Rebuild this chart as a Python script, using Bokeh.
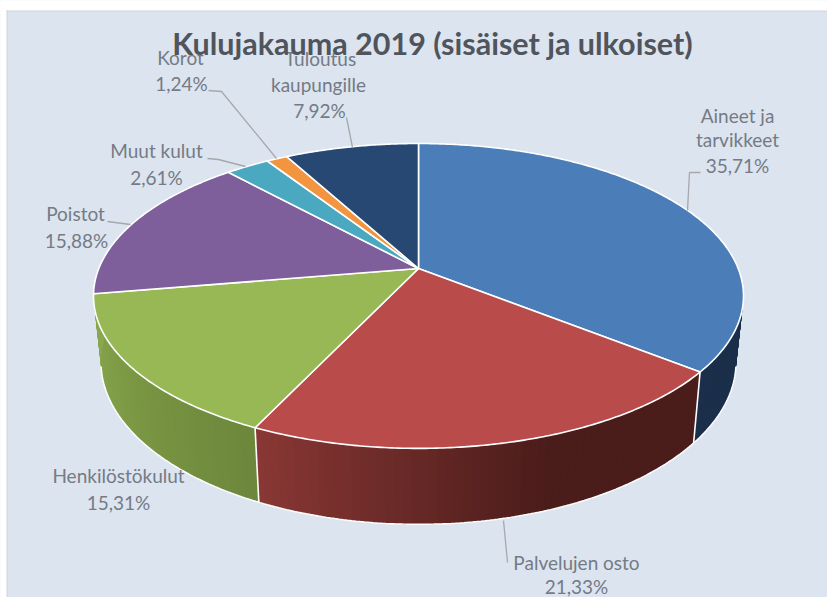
import numpy as np
from bokeh.plotting import figure
from bokeh.models import Range1d
from bokeh.embed import file_html
from bokeh.resources import INLINE
from bokeh.core.properties import value

# ---- data ----
categories = ["Aineet ja tarvikkeet", "Palvelujen osto", "Henkilöstökulut", "Poistot",
              "Muut kulut", "Korot", "Tuloutus kaupungille"]
shares = [35.71, 21.33, 15.31, 15.88, 2.61, 1.24, 7.92]
title_text = "Kulujakauma 2019 (sisäiset ja ulkoiset)"

# ---- style ----
top_colors = ["#4b7eb9", "#b94c4a", "#98b856", "#7e5f9b", "#4aa8c0", "#f29440", "#264872"]
panel = "#dce4ef"
label_color = "#747b85"
title_color = "#50545c"
FONT = "Lato"

# ---- perspective of the disc (picture pixels) ----
X0, Y0 = 418.0, 268.0
K = 0.18
A = 325 * np.sqrt(1 - K ** 2)
B = 147.5
SX, Y_REF_TOP, Y_REF_LOW, SY = 0.977, 372.0, 443.0, 1.065


def rim(t_deg):
    t = np.radians(t_deg)
    d = 1 + K * np.cos(t)
    return X0 + A * np.sin(t) / d, Y0 - B * np.cos(t) / d


def low(t_deg):
    x, y = rim(t_deg)
    return X0 + SX * (x - X0), Y_REF_LOW + SY * (y - Y_REF_TOP)


def mix(stops, t):
    ts = [s[0] for s in stops]
    rgb = [[int(s[1][i:i + 2], 16) for i in (1, 3, 5)] for s in stops]
    c = [int(round(np.interp(t, ts, [r[j] for r in rgb]))) for j in range(3)]
    return "#%02x%02x%02x" % tuple(c)


side_stops = [
    [(90, "#1b2f4b"), (130, "#1b2f4b")],
    [(128, "#4a1c1a"), (160, "#4a1c1a"), (206, "#8a3835")],
    [(205, "#6c873b"), (262, "#8aa84e")],
]

edges = np.concatenate([[0], np.cumsum(shares)]) * 360 / np.sum(shares)

p = figure(width=827, height=597, output_backend="svg", toolbar_location=None,
           x_range=Range1d(0, 827), y_range=Range1d(597, 0),
           min_border=0, border_fill_color=panel, background_fill_color=panel,
           outline_line_color=None)
p.axis.visible = False
p.grid.visible = False

p.quad(left=[0, 0], right=[827, 6], top=[0, 0], bottom=[10, 597], color="#ffffff")
p.line([6, 827], [10.5, 10.5], line_color="#cfd3d8", line_width=1)
p.line([6.5, 6.5], [10, 597], line_color="#cfd3d8", line_width=1)

# ---- sides: overlapping strips, each painted over the one before ----
xs, ys, cols = [], [], []
side_limits = [(80, edges[1]), (edges[1], edges[2]), (edges[2], 282)]
for (a, b), stops in zip(side_limits, side_stops):
    ts = np.linspace(a, b, 61)
    for t1, t2 in zip(ts[:-1], ts[1:]):
        tt = np.linspace(t1, min(t2 + 3, b), 8)
        ux, uy = rim(tt)
        lx, ly = low(tt)
        xs.append(list(ux) + list(lx[::-1]))
        ys.append(list(uy) + list(ly[::-1]))
        cols.append(mix(stops, (t1 + t2) / 2))
p.patches(xs, ys, fill_color=cols, line_color=None)

tt = np.linspace(102, 258, 240)
lx, ly = low(tt)
p.line(lx, ly, line_color="#ffffff", line_width=1.5)
for t in edges[1:3]:
    ux, uy = rim(t)
    lx, ly = low(t)
    p.line([ux, lx], [uy, ly], line_color="#ffffff", line_width=1.6)

# ---- top face ----
xs, ys = [], []
for a, b in zip(edges[:-1], edges[1:]):
    tt = np.linspace(a, b, max(int(b - a) * 2, 6))
    ux, uy = rim(tt)
    xs.append([X0] + list(ux))
    ys.append([Y0] + list(uy))
p.patches(xs, ys, fill_color=top_colors, line_color="#ffffff", line_width=1.6, line_join="round")

# ---- leader lines ----
leaders = [
    ([208, 221, 276], [90, 91, 158]),
    ([346, 352], [117, 147]),
    ([207, 218, 245], [158, 159, 166]),
    ([107, 130], [221, 224]),
    ([700, 689, 687], [172, 172, 210]),
    ([503, 507], [520, 562]),
]
for lx, ly in leaders:
    p.line(lx, ly, line_color="#a6a8ab", line_width=1.3)

# ---- texts ----
labels = [
    ("Korot", 180, 57), ("1,24%", 181, 83),
    ("Tuloutus", 320, 58), ("kaupungille", 318, 84), ("7,92%", 319, 110),
    ("Muut kulut", 156, 150), ("2,61%", 156, 177),
    ("Poistot", 75, 213), ("15,88%", 76, 240),
    ("Aineet ja", 737, 115), ("tarvikkeet", 737, 139), ("35,71%", 737, 165),
    ("Henkilöstökulut", 118, 475), ("15,31%", 118, 502),
    ("Palvelujen osto", 576, 562), ("21,33%", 576, 586),
]
p.text([l[1] for l in labels], [l[2] for l in labels], text=[l[0] for l in labels],
       text_font=value(FONT), text_font_size="19px", text_color=label_color,
       text_align="center", text_baseline="middle")
p.text([432], [42], text=[title_text], text_font=value(FONT), text_font_style="bold",
       text_font_size="30.5px", text_color=title_color, text_align="center", text_baseline="middle")

open("out.html", "w").write(file_html(p, INLINE))
